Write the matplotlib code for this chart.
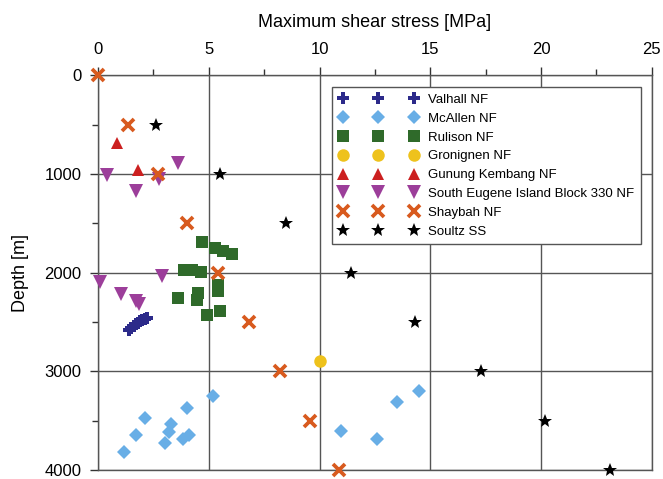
import matplotlib
matplotlib.use("Agg")
import matplotlib.pyplot as plt
from matplotlib.ticker import MultipleLocator

plt.rcParams['font.family'] = ['Liberation Sans', 'DejaVu Sans']

"""DATA (read off the figure)"""
valhall_x = [1.4, 1.5, 1.6, 1.7, 1.8, 1.9, 2.0, 2.1, 2.2]
valhall_y = [2580, 2560, 2540, 2525, 2510, 2495, 2480, 2470, 2460]

mcallen_x = [5.2, 4.0, 2.1, 3.3, 3.2, 1.7, 3.0, 3.85, 4.1, 1.15, 14.5, 13.5, 12.6, 10.95]
mcallen_y = [3250, 3370, 3470, 3530, 3620, 3645, 3725, 3690, 3650, 3820, 3200, 3310, 3685, 3610]

rulison_x = [4.7, 5.3, 5.65, 6.05, 3.9, 4.25, 4.65, 5.4, 5.4, 4.5, 4.45, 3.6, 4.9, 5.5]
rulison_y = [1690, 1750, 1780, 1810, 1975, 1975, 1995, 2130, 2190, 2210, 2280, 2260, 2430, 2390]

gronignen_x = [10.0]
gronignen_y = [2900]

gunung_x = [0.85, 1.8]
gunung_y = [690, 960]

eugene_x = [0.4, 3.6, 1.7, 2.75, 0.1, 2.9, 1.05, 1.7, 1.85]
eugene_y = [1010, 890, 1170, 1050, 2100, 2040, 2220, 2290, 2320]

shaybah_x = [0.0, 1.35, 2.7, 4.0, 5.4, 6.8, 8.2, 9.55, 10.9]
shaybah_y = [0, 500, 1000, 1500, 2000, 2500, 3000, 3500, 4000]

soultz_x = [2.6, 5.5, 8.5, 11.4, 14.3, 17.3, 20.2, 23.1]
soultz_y = [500, 1000, 1500, 2000, 2500, 3000, 3500, 4000]


"""FIGURE"""
fig = plt.figure(figsize=(6.63, 4.79), dpi=100)
ax = fig.add_axes([0.148, 0.019, 0.835, 0.824])

ax.set_xlim(0, 25)
ax.set_ylim(4000, 0)
ax.xaxis.tick_top()
ax.xaxis.set_label_position('top')
ax.xaxis.set_major_locator(MultipleLocator(5))
ax.xaxis.set_minor_locator(MultipleLocator(2.5))
ax.yaxis.set_major_locator(MultipleLocator(1000))
ax.yaxis.set_minor_locator(MultipleLocator(500))
ax.tick_params(which='both', direction='out', colors='#333333', labelcolor='black', labelsize=12)
ax.tick_params(which='major', length=6, width=1)
ax.tick_params(which='minor', length=4, width=1)
ax.tick_params(axis='x', which='major', pad=7)
ax.tick_params(axis='y', which='major', pad=6)
ax.grid(True, which='major', color='#555555', linewidth=1)
ax.set_axisbelow(True)
for s in ax.spines.values():
    s.set_color('#555555')
    s.set_linewidth(1)

ax.set_xlabel("Maximum shear stress [MPa]", fontsize=13, labelpad=11)
ax.set_ylabel("Depth [m]", fontsize=13, labelpad=11)

kw = dict(linestyle='none', clip_on=False, zorder=3)
ax.plot(valhall_x, valhall_y, marker='P', color='#2c2a8a', markersize=8, markeredgewidth=0,
        label='Valhall NF', **kw)
ax.plot(mcallen_x, mcallen_y, marker='D', color='#68aee6', markersize=7.5, markeredgewidth=0,
        label='McAllen NF', **kw)
ax.plot(rulison_x, rulison_y, marker='s', color='#2f6a2a', markersize=8, markeredgewidth=0,
        label='Rulison NF', **kw)
ax.plot(gronignen_x, gronignen_y, marker='o', color='#eec21c', markersize=9, markeredgewidth=0,
        label='Gronignen NF', **kw)
ax.plot(gunung_x, gunung_y, marker='^', color='#cc2020', markersize=9, markeredgewidth=0,
        label='Gunung Kembang NF', **kw)
ax.plot(eugene_x, eugene_y, marker='v', color='#9c3e9a', markersize=9.5, markeredgewidth=0,
        label='South Eugene Island Block 330 NF', **kw)
ax.plot(shaybah_x, shaybah_y, marker='x', color='#d85a1e', markersize=8.5, markeredgewidth=2.7,
        label='Shaybah NF', **kw)
ax.plot(soultz_x, soultz_y, marker='*', color='black', markersize=10, markeredgewidth=0,
        label='Soultz SS', **kw)

leg = ax.legend(loc='upper right', bbox_to_anchor=(0.981, 0.97), borderaxespad=0,
                numpoints=3, handlelength=6, handletextpad=0.8, fontsize=9.5,
                fancybox=False, framealpha=1, edgecolor='#555555', borderpad=0.5,
                labelspacing=0.5)
leg.get_frame().set_linewidth(1)

fig.savefig("out.png", dpi=100)
